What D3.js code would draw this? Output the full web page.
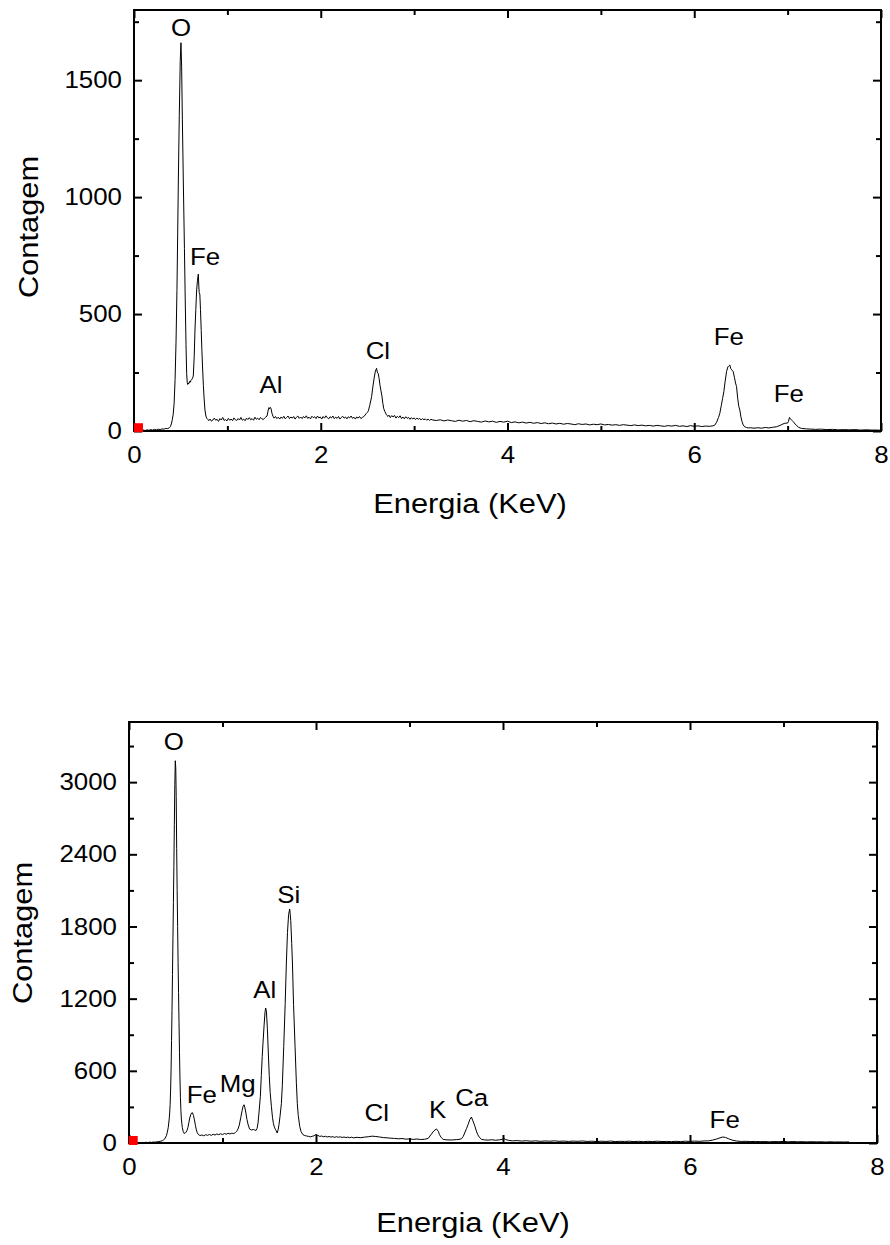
<!DOCTYPE html>
<html>
<head>
<meta charset="utf-8">
<script src="https://cdn.jsdelivr.net/npm/d3@7"></script>
<style>
  html, body { margin: 0; padding: 0; background: #fff; }
  svg { display: block; }
  text { font-family: "Liberation Sans", Arial, Helvetica, sans-serif; fill: #000; }
</style>
</head>
<body>
<svg id="chart" width="890" height="1245"></svg>
<script>
// ---- EDS spectra: [energy (keV), counts] ----
const spectrumA = [
  [0.00,0],[0.02,2],[0.04,1],[0.06,3],[0.08,1],[0.10,4],[0.12,2],[0.14,5],[0.16,3],[0.18,6],[0.20,4],[0.22,7],[0.24,5],[0.26,8],[0.28,6],[0.30,9],[0.32,8],[0.34,11],[0.36,10],[0.38,14],[0.39,19],
  [0.40,30],[0.41,48],[0.42,72],[0.43,120],[0.44,220],[0.45,380],[0.46,600],[0.468,846],[0.475,1073],[0.485,1350],[0.495,1580],[0.503,1660],[0.51,1560],[0.518,1330],[0.528,1073],[0.54,780],[0.55,530],[0.557,370],[0.564,245],
  [0.57,208],[0.575,199],[0.58,204],[0.585,201],[0.59,208],[0.595,206],[0.60,214],[0.605,209],[0.61,217],[0.62,221],[0.627,226],[0.635,235],
  [0.645,320],[0.653,432],[0.662,520],[0.671,603],[0.68,645],[0.689,671],[0.694,620],[0.698,592],[0.705,585],[0.712,520],[0.72,430],[0.727,345],[0.735,265],[0.743,195],[0.75,145],[0.76,90],[0.77,64],[0.78,54],[0.79,50],
  [0.80,44],[0.815,51],[0.83,42],[0.845,47],[0.86,55],[0.875,46],[0.89,50],[0.905,41],[0.92,53],[0.935,47],[0.95,58],[0.965,45],[0.98,49],[0.995,43],[1.01,54],[1.025,46],[1.04,51],[1.055,44],[1.07,56],[1.085,48],
  [1.10,45],[1.115,53],[1.13,47],[1.145,58],[1.16,46],[1.175,51],[1.19,44],[1.205,55],[1.22,49],[1.235,57],[1.25,48],[1.265,53],[1.28,46],[1.295,59],[1.31,50],[1.325,55],[1.34,48],[1.355,58],[1.37,52],[1.385,49],[1.40,56],[1.412,60],
  [1.425,64],[1.435,85],[1.445,100],[1.452,95],[1.46,101],[1.468,95],[1.478,75],[1.49,62],[1.50,55],
  [1.515,62],[1.53,53],[1.545,59],[1.56,51],[1.575,60],[1.59,54],[1.605,63],[1.62,52],[1.635,58],[1.65,64],[1.665,53],[1.68,60],[1.695,55],[1.71,62],[1.725,51],[1.74,59],[1.755,64],[1.77,54],[1.785,60],[1.80,53],
  [1.815,62],[1.83,56],[1.845,65],[1.86,54],[1.875,59],[1.89,52],[1.905,63],[1.92,57],[1.935,61],[1.95,53],[1.965,64],[1.98,56],[1.995,60],[2.01,51],[2.025,62],[2.04,55],[2.055,65],[2.07,57],[2.085,52],[2.10,61],
  [2.115,56],[2.13,64],[2.145,53],[2.16,59],[2.175,54],[2.19,62],[2.205,51],[2.22,58],[2.235,63],[2.25,55],[2.265,60],[2.28,52],[2.295,61],[2.31,56],[2.325,64],[2.34,54],[2.355,59],[2.37,51],[2.385,60],[2.40,55],[2.415,62],[2.43,53],[2.445,58],[2.46,61],
  [2.49,76],[2.50,80],[2.51,86],[2.525,110],[2.545,147],[2.555,180],[2.57,222],[2.585,256],[2.598,268],[2.605,252],[2.615,246],[2.625,225],[2.635,195],[2.645,172],[2.655,150],[2.665,118],[2.675,95],[2.687,83],[2.70,72],[2.71,66],[2.72,62],
  [2.73,68],[2.745,57],[2.76,66],[2.775,60],[2.79,67],[2.805,55],[2.82,63],[2.835,57],[2.85,65],[2.865,53],[2.88,60],[2.895,52],[2.91,61],[2.925,54],[2.94,58],[2.955,50],[2.97,57],[2.985,51],[3.00,56],[3.015,49],
  [3.03,55],[3.045,50],[3.06,54],[3.075,47],[3.09,53],[3.105,48],[3.12,52],[3.135,46],[3.15,51],[3.165,45],[3.18,50],[3.20,47],
  [3.24,45],[3.28,48],[3.32,43],[3.36,47],[3.40,44],[3.44,41],[3.48,46],[3.52,42],[3.56,45],[3.60,40],[3.64,44],[3.68,41],[3.72,38],[3.76,43],[3.80,39],[3.84,42],[3.88,37],[3.92,41],[3.96,38],[4.00,42],
  [4.04,36],[4.08,39],[4.12,35],[4.16,38],[4.20,34],[4.24,37],[4.28,33],[4.32,36],[4.36,32],[4.40,35],[4.44,31],[4.48,34],[4.52,30],[4.56,33],[4.60,29],[4.64,32],[4.68,30],[4.72,27],[4.76,31],[4.80,28],[4.84,30],[4.88,26],[4.92,29],[4.96,27],
  [5.00,30],[5.04,26],[5.08,28],[5.12,25],[5.16,27],[5.20,24],[5.24,27],[5.28,25],[5.32,23],[5.36,26],[5.40,23],[5.44,25],[5.48,22],[5.52,24],[5.56,21],[5.60,24],[5.64,22],[5.68,20],[5.72,23],[5.76,21],[5.80,24],[5.84,20],[5.88,22],[5.92,19],[5.96,23],
  [6.00,20],[6.04,22],[6.08,19],[6.12,21],[6.16,20],[6.20,22],
  [6.22,25],[6.24,38],[6.26,58],[6.274,76],[6.29,110],[6.303,138],[6.317,168],[6.33,210],[6.346,254],[6.36,274],[6.372,279],[6.381,282],[6.39,268],[6.40,262],[6.417,254],[6.43,230],[6.442,205],[6.453,190],[6.465,140],[6.477,105],[6.488,90],[6.50,60],[6.512,40],[6.524,26],[6.54,18],[6.56,15],[6.58,13],
  [6.60,14],[6.64,12],[6.68,14],[6.72,12],[6.76,15],[6.80,13],[6.84,16],[6.88,18],[6.92,24],[6.95,30],[6.97,33],[7.00,34],[7.008,40],[7.02,58],[7.03,52],[7.045,46],[7.06,40],[7.08,30],[7.10,22],[7.12,15],[7.15,11],
  [7.20,9],[7.25,8],[7.30,7],[7.36,8],[7.42,6],[7.48,7],[7.54,5],[7.60,6],[7.66,5],[7.72,6],[7.78,4],[7.84,5],[7.90,4],[7.96,4],[8.00,3]
];

const spectrumB = [
  [0.00,0],[0.02,1],[0.04,3],[0.06,1],[0.08,2],[0.10,4],[0.12,2],[0.14,5],[0.16,3],[0.18,6],[0.20,4],[0.22,7],[0.24,5],[0.26,8],[0.28,7],[0.30,10],[0.32,12],[0.34,15],[0.36,20],[0.38,32],
  [0.40,60],[0.41,90],[0.42,130],[0.43,200],[0.435,250],[0.44,320],[0.445,440],[0.45,600],[0.455,850],[0.46,1100],[0.465,1400],[0.47,1700],[0.475,2000],[0.48,2300],[0.485,2650],[0.49,2980],[0.495,3178],
  [0.50,3120],[0.505,2880],[0.51,2450],[0.515,2100],[0.52,1800],[0.525,1500],[0.53,1250],[0.535,1000],[0.54,750],[0.545,540],[0.55,380],[0.555,270],[0.56,200],[0.57,130],[0.58,95],[0.59,80],
  [0.60,82],[0.61,90],[0.62,104],[0.63,128],[0.64,168],[0.65,208],[0.66,236],[0.67,250],[0.678,252],[0.69,228],[0.70,192],[0.71,148],[0.72,110],[0.73,86],[0.74,72],[0.75,66],
  [0.76,62],[0.78,67],[0.80,60],[0.82,69],[0.84,64],[0.86,71],[0.88,63],[0.90,73],[0.92,66],[0.94,75],[0.96,69],[0.98,77],[1.00,70],[1.02,79],[1.04,73],[1.06,81],[1.08,75],[1.10,82],[1.12,78],
  [1.14,88],[1.15,95],[1.165,115],[1.18,150],[1.195,210],[1.21,270],[1.22,305],[1.23,318],[1.24,292],[1.25,250],[1.262,194],[1.275,150],[1.29,116],[1.31,108],[1.33,113],[1.345,107],[1.36,106],
  [1.37,122],[1.38,166],[1.39,250],[1.405,387],[1.415,560],[1.425,720],[1.433,830],[1.445,980],[1.455,1090],[1.462,1122],[1.47,1090],[1.48,950],[1.49,748],[1.50,560],[1.51,420],[1.523,304],[1.535,210],[1.545,160],[1.555,132],[1.565,114],[1.576,100],[1.585,83],
  [1.595,110],[1.604,152],[1.615,220],[1.63,330],[1.64,480],[1.655,803],[1.67,1150],[1.683,1496],[1.695,1750],[1.707,1900],[1.719,1945],[1.73,1850],[1.74,1660],[1.748,1496],[1.76,1150],[1.776,803],[1.79,500],[1.80,330],[1.81,230],[1.826,138],[1.84,95],[1.86,69],
  [1.88,62],[1.90,58],[1.92,55],[1.94,51],[1.96,56],[1.98,60],[2.00,72],[2.02,63],[2.04,55],[2.06,58],[2.08,52],[2.10,56],[2.12,50],[2.14,54],[2.16,49],[2.18,53],[2.20,47],[2.22,52],[2.24,48],[2.26,51],[2.28,46],[2.30,50],[2.32,45],[2.34,49],[2.36,44],[2.38,48],[2.40,43],
  [2.44,47],[2.48,44],[2.52,49],[2.56,52],[2.60,57],[2.64,54],[2.68,50],[2.72,45],[2.76,43],[2.80,40],[2.84,38],[2.88,35],[2.92,37],[2.96,32],[3.00,34],[3.04,30],[3.08,33],[3.12,29],[3.16,31],
  [3.20,38],[3.23,70],[3.26,100],[3.288,117],[3.31,95],[3.32,70],[3.34,45],[3.36,30],[3.40,26],[3.45,25],[3.50,28],[3.53,30],
  [3.555,35],[3.575,55],[3.59,83],[3.61,120],[3.626,152],[3.645,195],[3.662,216],[3.675,190],[3.69,160],[3.70,138],[3.715,100],[3.73,69],[3.75,45],[3.77,30],[3.80,26],
  [3.84,24],[3.88,27],[3.92,23],[3.96,26],[3.99,30],[4.01,38],[4.03,28],[4.06,22],[4.10,18],[4.15,20],[4.20,16],[4.25,19],[4.30,15],[4.35,18],[4.40,14],[4.45,17],[4.50,15],[4.55,18],[4.60,14],[4.65,16],[4.70,13],[4.75,16],[4.80,14],[4.85,17],[4.90,13],[4.95,15],
  [5.00,12],[5.05,15],[5.10,13],[5.15,16],[5.20,12],[5.25,14],[5.30,13],[5.35,15],[5.40,12],[5.45,14],[5.50,11],[5.55,14],[5.60,12],[5.65,15],[5.70,12],[5.75,13],[5.80,11],[5.85,14],[5.90,12],[5.95,15],
  [6.00,13],[6.05,16],[6.10,14],[6.15,17],[6.20,18],[6.24,24],[6.28,32],[6.31,40],[6.35,50],[6.38,46],[6.41,36],[6.45,24],[6.50,16],[6.55,13],
  [6.60,14],[6.65,12],[6.70,13],[6.75,11],[6.80,12],[6.85,10],[6.90,12],[6.95,11],[7.00,13],[7.05,10],[7.10,12],[7.15,10],[7.20,11],[7.25,9],[7.30,11],[7.35,9],[7.40,10],[7.45,8],[7.50,10],[7.55,8],[7.60,9],[7.65,8],[7.70,9]
];

// ---- element annotations: [symbol, energy (keV), counts at label baseline] ----
const peakLabelsA = [
  ["O", 0.503, 1689], ["Fe", 0.76, 710], ["Al", 1.467, 164],
  ["Cl", 2.612, 308], ["Fe", 6.37, 368], ["Fe", 7.013, 125]
];
const peakLabelsB = [
  ["O", 0.478, 3269], ["Fe", 0.778, 335], ["Mg", 1.163, 426], ["Al", 1.451, 1208],
  ["Si", 1.708, 1998], ["Cl", 2.649, 185], ["K", 3.302, 210], ["Ca", 3.665, 310], ["Fe", 6.371, 127]
];

// ---- start-of-scan marker points ----
const markerA = [0.048, 14];
const markerB = [0.045, 21];

// ---- axes ----
const energyDomain = [0, 8];
const energyMajor = [0, 2, 4, 6, 8];
const energyMinor = [1, 3, 5, 7];
const countsMajorA = [0, 500, 1000, 1500];
const countsMinorA = [250, 750, 1250, 1750];
const countsMaxA = 1800;
const countsMajorB = [0, 600, 1200, 1800, 2400, 3000];
const countsMinorB = [300, 900, 1500, 2100, 2700, 3300];
const countsMaxB = 3500;

const xTitle = "Energia (KeV)";
const yTitle = "Contagem";

// ---- drawing ----
const svg = d3.select("#chart");
const GLYPH_STRETCH = 1.1;
const TICK_FONT = 23.5, LABEL_FONT = 23.5, TITLE_FONT = 28;

function drawPanel(cfg) {
  const x = d3.scaleLinear().domain(energyDomain).range([cfg.left, cfg.right]);
  const y = d3.scaleLinear().domain([0, cfg.yMax]).range([cfg.bottom, cfg.top]);
  const g = svg.append("g");

  // spectrum trace
  g.append("path")
    .datum(cfg.data)
    .attr("d", d3.line().x(d => x(d[0])).y(d => y(d[1])))
    .attr("fill", "none")
    .attr("stroke", "#000")
    .attr("stroke-width", 1)
    .attr("stroke-linejoin", "round");

  // frame
  g.append("rect")
    .attr("x", cfg.left).attr("y", cfg.top)
    .attr("width", cfg.right - cfg.left).attr("height", cfg.bottom - cfg.top)
    .attr("fill", "none").attr("stroke", "#000").attr("stroke-width", 2);

  // inward ticks on all four sides, labels only bottom and left
  const sides = [
    { axis: () => d3.axisBottom(x), at: `translate(0,${cfg.bottom})`, major: energyMajor, minor: energyMinor, labels: true, pad: 15 },
    { axis: () => d3.axisTop(x), at: `translate(0,${cfg.top})`, major: energyMajor, minor: energyMinor, labels: false, pad: 0 },
    { axis: () => d3.axisLeft(y), at: `translate(${cfg.left},0)`, major: cfg.yMajor, minor: cfg.yMinor, labels: true, pad: 11 },
    { axis: () => d3.axisRight(y), at: `translate(${cfg.right},0)`, major: cfg.yMajor, minor: cfg.yMinor, labels: false, pad: 0 }
  ];
  sides.forEach(s => {
    const major = g.append("g").attr("transform", s.at)
      .call(s.axis().tickValues(s.major).tickSizeInner(-8).tickSizeOuter(0)
        .tickPadding(s.pad).tickFormat(s.labels ? d3.format("d") : ""));
    major.select(".domain").remove();
    major.selectAll("line").attr("stroke", "#000").attr("stroke-width", 2);
    major.attr("font-family", null).attr("font-size", TICK_FONT);
    major.selectAll("text").attr("fill", "#000")
      .attr("transform", `scale(${GLYPH_STRETCH},1)`);

    const minor = g.append("g").attr("transform", s.at)
      .call(s.axis().tickValues(s.minor).tickSizeInner(-5).tickSizeOuter(0).tickFormat(""));
    minor.select(".domain").remove();
    minor.selectAll("line").attr("stroke", "#000").attr("stroke-width", 2);
  });

  // element labels
  g.selectAll("text.peak")
    .data(cfg.labels)
    .join("text")
    .attr("class", "peak")
    .attr("text-anchor", "middle")
    .attr("font-size", LABEL_FONT)
    .attr("transform", d => `translate(${x(d[1])},${y(d[2])}) scale(${GLYPH_STRETCH},1)`)
    .text(d => d[0]);

  // axis titles
  g.append("text")
    .attr("text-anchor", "middle")
    .attr("font-size", TITLE_FONT)
    .attr("transform", `translate(${cfg.xTitleX},${cfg.xTitleY}) scale(${GLYPH_STRETCH},1)`)
    .text(xTitle);
  g.append("text")
    .attr("text-anchor", "middle")
    .attr("font-size", TITLE_FONT)
    .attr("transform", `translate(${cfg.yTitleX},${cfg.yTitleY}) rotate(-90) scale(${GLYPH_STRETCH},1)`)
    .text(yTitle);

  // start marker
  g.append("rect")
    .attr("x", x(cfg.marker[0]) - 4.5).attr("y", y(cfg.marker[1]) - 4.5)
    .attr("width", 9).attr("height", 9)
    .attr("fill", "#ff0000");
}

drawPanel({
  left: 134, right: 881, top: 10, bottom: 431,
  yMax: countsMaxA, yMajor: countsMajorA, yMinor: countsMinorA,
  data: spectrumA, labels: peakLabelsA, marker: markerA,
  xTitleX: 470, xTitleY: 513, yTitleX: 38, yTitleY: 227
});

drawPanel({
  left: 129, right: 877, top: 722, bottom: 1143,
  yMax: countsMaxB, yMajor: countsMajorB, yMinor: countsMinorB,
  data: spectrumB, labels: peakLabelsB, marker: markerB,
  xTitleX: 473, xTitleY: 1232, yTitleX: 32, yTitleY: 933
});
</script>
</body>
</html>
